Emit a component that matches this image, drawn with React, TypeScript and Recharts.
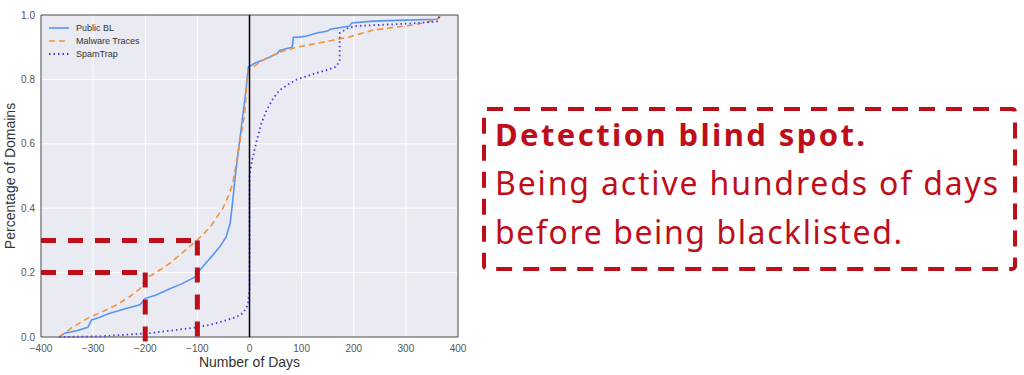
import React from 'react';
import {
  LineChart,
  Line,
  XAxis,
  YAxis,
  CartesianGrid,
  ReferenceLine,
  ReferenceArea,
  Legend,
} from 'recharts';

// days relative to blacklisting, and cumulative share of domains
const publicDays = [-365, -355, -330, -310, -303, -290, -268, -240, -210, -200, -180, -153, -130, -105, -95, -82, -70, -57, -45, -37, -32, -28, -22, -15, -8, -2, 0, 10, 26, 40, 53, 58, 70, 82, 84, 100, 110, 129, 150, 155, 192, 196, 237, 300, 360, 366];
const publicPct = [0, 0.012, 0.02, 0.03, 0.053, 0.06, 0.074, 0.087, 0.1, 0.12, 0.13, 0.15, 0.165, 0.186, 0.208, 0.233, 0.255, 0.28, 0.31, 0.354, 0.425, 0.49, 0.57, 0.66, 0.75, 0.84, 0.84, 0.85, 0.86, 0.87, 0.88, 0.89, 0.895, 0.9, 0.93, 0.932, 0.935, 0.944, 0.95, 0.956, 0.966, 0.975, 0.981, 0.984, 0.987, 1.0];

const malwareDays = [-365, -340, -306, -280, -255, -230, -210, -200, -175, -153, -130, -101, -76, -51, -40, -32, -18, -9, -3, 0, 26, 58, 91, 155, 192, 237, 314, 360, 366];
const malwarePct = [0, 0.03, 0.062, 0.08, 0.1, 0.125, 0.15, 0.18, 0.205, 0.229, 0.26, 0.3, 0.34, 0.4, 0.44, 0.478, 0.61, 0.695, 0.83, 0.83, 0.86, 0.885, 0.9, 0.92, 0.932, 0.953, 0.969, 0.985, 1.0];

const spamDays = [-365, -287, -191, -150, -101, -70, -43, -25, -12, -3, 0, 0, 5, 14, 22, 33, 45, 58, 75, 91, 110, 129, 150, 167, 173, 173, 190, 206, 260, 314, 360, 366];
const spamPct = [0, 0.002, 0.012, 0.02, 0.03, 0.04, 0.053, 0.062, 0.075, 0.1, 0.15, 0.5, 0.55, 0.61, 0.66, 0.705, 0.74, 0.767, 0.785, 0.8, 0.81, 0.82, 0.83, 0.84, 0.86, 0.944, 0.96, 0.966, 0.97, 0.974, 0.98, 1.0];

const xTicks = [-400, -300, -200, -100, 0, 100, 200, 300, 400];
const yTicks = [0, 0.2, 0.4, 0.6, 0.8, 1.0];

// the two "blind spot" guides: [day, share]
const guides = [
  [-200, 0.2],
  [-100, 0.3],
];

const noteTitle = 'Detection blind spot.';
const noteLines = ['Being active hundreds of days', 'before being blacklisted.'];

const RED = '#BE0E1A';

const toRows = (days: number[], pct: number[]) => days.map((d, i) => ({ day: d, pct: pct[i] }));

const series = [
  { name: 'Public BL', color: '#5595F6', dash: undefined, width: 1.6, data: toRows(publicDays, publicPct) },
  { name: 'Malware Traces', color: '#F0933E', dash: '6 4', width: 1.6, data: toRows(malwareDays, malwarePct) },
  { name: 'SpamTrap', color: '#3D3DEE', dash: '1.5 3', width: 1.8, data: toRows(spamDays, spamPct) },
];

const fmtX = (v: number) => (v < 0 ? '\u2212' + Math.abs(v) : String(v));

const ChartLegend = () => (
  <div style={{ fontFamily: 'Liberation Sans, Arial, sans-serif', fontSize: 9, color: '#333' }}>
    {series.map((s) => (
      <div key={s.name} style={{ display: 'flex', alignItems: 'center', height: 13 }}>
        <svg width={22} height={6} style={{ marginRight: 6 }}>
          <line x1={1} y1={3} x2={21} y2={3} stroke={s.color} strokeWidth={s.width} strokeDasharray={s.dash} />
        </svg>
        <span>{s.name}</span>
      </div>
    ))}
  </div>
);

export default function App() {
  return (
    <div style={{ position: 'absolute', left: 0, top: 0, width: 1024, height: 375, background: '#fff' }}>
      <LineChart width={470} height={375} margin={{ top: 15, right: 12, bottom: 8, left: 0 }}>
        <CartesianGrid stroke="#fff" strokeWidth={1} fill="#EAEAF2" />
        <XAxis
          type="number"
          dataKey="day"
          domain={[-400, 400]}
          ticks={xTicks}
          tickFormatter={fmtX}
          tickLine={false}
          axisLine={false}
          height={30}
          tick={{ fontSize: 10, fill: '#555', fontFamily: 'Liberation Sans, Arial, sans-serif' }}
          label={{
            content: ({ viewBox }: any) => (
              <text
                x={viewBox.x + viewBox.width / 2}
                y={viewBox.y + 30}
                textAnchor="middle"
                fontSize={14}
                fill="#333"
                fontFamily="Liberation Sans, Arial, sans-serif"
              >
                Number of Days
              </text>
            ),
          }}
        />
        <YAxis
          type="number"
          dataKey="pct"
          domain={[0, 1]}
          ticks={yTicks}
          tickFormatter={(v: number) => v.toFixed(1)}
          tickLine={false}
          axisLine={false}
          tickMargin={0}
          width={41}
          tick={{ fontSize: 10, fill: '#555', fontFamily: 'Liberation Sans, Arial, sans-serif' }}
          label={{
            content: ({ viewBox }: any) => {
              const cy = viewBox.y + viewBox.height / 2;
              return (
                <text
                  x={15}
                  y={cy}
                  transform={`rotate(-90 15 ${cy})`}
                  textAnchor="middle"
                  fontSize={14}
                  fill="#333"
                  fontFamily="Liberation Sans, Arial, sans-serif"
                >
                  Percentage of Domains
                </text>
              );
            },
          }}
        />
        <ReferenceArea x1={-400} x2={400} y1={0} y2={1} fill="none" fillOpacity={0} stroke="#444" strokeWidth={1} />
        {series.map((s) => (
          <Line
            key={s.name}
            data={s.data}
            dataKey="pct"
            name={s.name}
            type="linear"
            stroke={s.color}
            strokeWidth={s.width}
            strokeDasharray={s.dash}
            dot={false}
            activeDot={false}
            isAnimationActive={false}
          />
        ))}
        <ReferenceLine x={0} stroke="#000" strokeWidth={1.5} />
        {guides.map(([d, p]) => (
          <ReferenceLine
            key={'h' + d}
            segment={[{ x: -400, y: p }, { x: d, y: p }]}
            stroke={RED}
            strokeWidth={5}
            strokeDasharray="15 12"
            ifOverflow="visible"
          />
        ))}
        {guides.map(([d, p]) => (
          <ReferenceLine
            key={'v' + d}
            segment={[{ x: d, y: p }, { x: d, y: -0.03 }]}
            stroke={RED}
            strokeWidth={5}
            strokeDasharray="15 12"
            ifOverflow="visible"
          />
        ))}
        {/* centred + middle so the legend takes no room from the plot */}
        <Legend
          layout="vertical"
          verticalAlign="middle"
          align="center"
          content={<ChartLegend />}
          wrapperStyle={{ left: 48, top: 21, width: 'auto' }}
        />
      </LineChart>
      <svg width={1024} height={375} style={{ position: 'absolute', left: 0, top: 0, pointerEvents: 'none' }}>
        <rect x={484} y={109} width={531} height={160} rx={3} fill="none" stroke={RED} strokeWidth={4} strokeDasharray="16 11" />
        <text x={495} y={146} fill={RED} fontFamily="Noto Sans, Open Sans, sans-serif" fontWeight={700} fontSize={31} textLength={370} lengthAdjust="spacing">
          {noteTitle}
        </text>
        <text x={495} y={195} fill={RED} fontFamily="Noto Sans, Open Sans, sans-serif" fontSize={32} textLength={503} lengthAdjust="spacing">
          {noteLines[0]}
        </text>
        <text x={495} y={244} fill={RED} fontFamily="Noto Sans, Open Sans, sans-serif" fontSize={32} textLength={407} lengthAdjust="spacing">
          {noteLines[1]}
        </text>
      </svg>
    </div>
  );
}
